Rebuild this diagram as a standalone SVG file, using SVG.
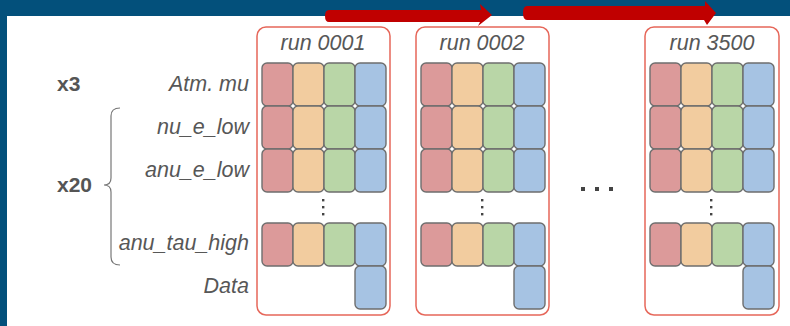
<svg xmlns="http://www.w3.org/2000/svg" width="790" height="326" viewBox="0 0 790 326">
<defs>
<style>
.box{fill:#fff;stroke:#e6675a;stroke-width:1.5}
.c{stroke:#6e6e6e;stroke-width:1.4}
.r{fill:#dc9a9a}.o{fill:#f2cc9f}.g{fill:#b9d6a7}.b{fill:#a6c3e3}
.t{font-family:"Liberation Sans",Arial,sans-serif;font-style:italic;fill:#575757;font-size:21.5px}
.h{font-family:"Liberation Sans",Arial,sans-serif;font-style:italic;fill:#575757;font-size:21.5px}
.m{font-family:"Liberation Sans",Arial,sans-serif;font-weight:bold;fill:#555;font-size:21px}
.d{fill:#444}
.arr{fill:#c00000}
</style>
<g id="grid">
<rect class="c r" x="0" y="0" width="31" height="43" rx="5"/>
<rect class="c o" x="31" y="0" width="31" height="43" rx="5"/>
<rect class="c g" x="62" y="0" width="31" height="43" rx="5"/>
<rect class="c b" x="93" y="0" width="31" height="43" rx="5"/>
<rect class="c r" x="0" y="43" width="31" height="43" rx="5"/>
<rect class="c o" x="31" y="43" width="31" height="43" rx="5"/>
<rect class="c g" x="62" y="43" width="31" height="43" rx="5"/>
<rect class="c b" x="93" y="43" width="31" height="43" rx="5"/>
<rect class="c r" x="0" y="86" width="31" height="43" rx="5"/>
<rect class="c o" x="31" y="86" width="31" height="43" rx="5"/>
<rect class="c g" x="62" y="86" width="31" height="43" rx="5"/>
<rect class="c b" x="93" y="86" width="31" height="43" rx="5"/>
<rect class="d" x="60" y="136" width="2.4" height="2.4"/>
<rect class="d" x="60" y="143" width="2.4" height="2.4"/>
<rect class="d" x="60" y="150" width="2.4" height="2.4"/>
<rect class="c r" x="0" y="160" width="31" height="43" rx="5"/>
<rect class="c o" x="31" y="160" width="31" height="43" rx="5"/>
<rect class="c g" x="62" y="160" width="31" height="43" rx="5"/>
<rect class="c b" x="93" y="160" width="31" height="43" rx="5"/>
<rect class="c b" x="93" y="203" width="31" height="43" rx="5"/>
</g>
</defs>
<rect x="0" y="0" width="790" height="326" fill="#03507b"/>
<rect x="7" y="16" width="783" height="310" fill="#fff"/>

<g id="labels">
<text class="m" x="57" y="91">x3</text>
<text class="m" x="57" y="192">x20</text>
<path d="M120,108 Q111,108 111,116 L111,178 Q111,185 104,185 Q111,185 111,192 L111,257 Q111,265 120,265" fill="none" stroke="#777" stroke-width="1.2"/>
<text class="t" x="249" y="91" text-anchor="end">Atm. mu</text>
<text class="t" x="249" y="134" text-anchor="end">nu_e_low</text>
<text class="t" x="249" y="177" text-anchor="end">anu_e_low</text>
<text class="t" x="249" y="250" text-anchor="end">anu_tau_high</text>
<text class="t" x="249" y="293" text-anchor="end">Data</text>
</g>

<g id="run0001">
<rect class="box" x="257" y="27" width="133" height="288" rx="9"/>
<text class="h" x="323" y="50" text-anchor="middle">run 0001</text>
<use href="#grid" x="262" y="63"/>
</g>
<g id="run0002">
<rect class="box" x="416" y="27" width="133" height="288" rx="9"/>
<text class="h" x="482" y="50" text-anchor="middle">run 0002</text>
<use href="#grid" x="421" y="63"/>
</g>
<g id="ellipsis">
<rect class="d" x="581" y="187" width="4" height="4"/>
<rect class="d" x="595" y="187" width="4" height="4"/>
<rect class="d" x="609" y="187" width="4" height="4"/>
</g>
<g id="run3500">
<rect class="box" x="645" y="27" width="134" height="288" rx="9"/>
<text class="h" x="712" y="50" text-anchor="middle">run 3500</text>
<use href="#grid" x="650" y="63"/>
</g>

<g id="connectors">
<path class="arr" d="M329,10 L481,10 L480,4 L492,15 L478,26 L480,22 L329,22 Q325,22 325,16 Q325,10 329,10 Z"/>
<path class="arr" d="M527,6 L705,6 L705,1 L716,13 L707,25 L704,20 L527,20 Q523,20 523,13 Q523,6 527,6 Z"/>
</g>
</svg>
